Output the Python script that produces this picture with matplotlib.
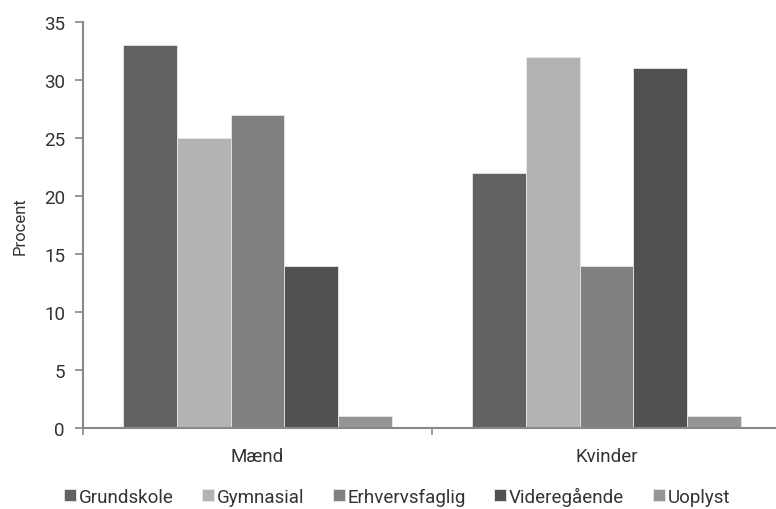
import numpy as np
import matplotlib
matplotlib.use("Agg")
import matplotlib.pyplot as plt

# data
groups = ["Mænd", "Kvinder"]
series = ["Grundskole", "Gymnasial", "Erhvervsfaglig", "Videregående", "Uoplyst"]
values = [
    [33, 22],  # Grundskole
    [25, 32],  # Gymnasial
    [27, 14],  # Erhvervsfaglig
    [14, 31],  # Videregående
    [1, 1],    # Uoplyst
]
colors = ["#626262", "#b3b3b3", "#7f817f", "#505250", "#959595"]
yticks = [0, 5, 10, 15, 20, 25, 30, 35]

plt.rcParams["font.family"] = ["Roboto", "DejaVu Sans"]
plt.rcParams["font.size"] = 13.5

fig = plt.figure(figsize=(7.76, 5.10), dpi=100)
ax = fig.add_axes([83 / 776, 1 - 429 / 510, 698 / 776, 406 / 510])

x = np.arange(len(groups))
n = len(series)
bw = 0.768 / n
for i, name in enumerate(series):
    ax.bar(x - 0.384 + bw * (i + 0.5), values[i], width=bw, color=colors[i],
           edgecolor="#e8e8e8", linewidth=0.6, label=name, zorder=2)

ax.set_xlim(-0.5, 1.5)
ax.set_ylim(0, 35)
ax.set_yticks(yticks)
ax.set_xticks(x)
ax.set_xticklabels(groups)
ax.set_xticks([-0.5, 0.5, 1.5], minor=True)
ax.tick_params(axis="x", which="major", length=0, pad=14, colors="#333333")
ax.tick_params(axis="x", which="minor", length=5, color="#888888", width=1.2)
ax.tick_params(axis="y", length=6, color="#888888", width=1.2, pad=7, colors="#333333")
for t in ax.yaxis.get_ticklines():
    t.set_color("#888888")

for s in ["top", "right"]:
    ax.spines[s].set_visible(False)
for s in ["left", "bottom"]:
    ax.spines[s].set_color("#888888")
    ax.spines[s].set_linewidth(1.5)
    ax.spines[s].set_zorder(3)

ax.set_ylabel("Procent", fontsize=12, labelpad=12, color="#333333")

leg = fig.legend(loc="center", bbox_to_anchor=(0.5 + 9 / 776, 1 - 497 / 510), ncol=5,
                 frameon=False, handlelength=0.65, handleheight=0.65,
                 handletextpad=0.15, columnspacing=1.5, borderaxespad=0)
for txt in leg.get_texts():
    txt.set_color("#333333")

fig.savefig("out.png", dpi=100)
